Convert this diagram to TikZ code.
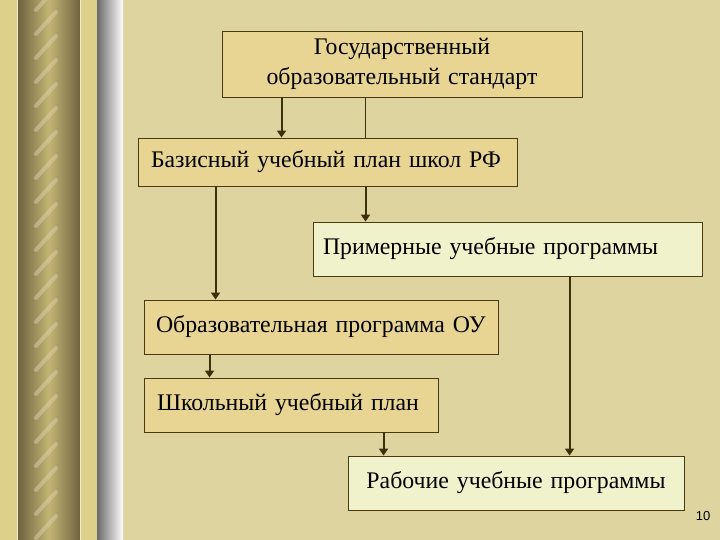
\documentclass[tikz,border=0pt]{standalone}
\usepackage{fontspec}
\setmainfont{Liberation Serif}
\newfontfamily\numfont{Liberation Sans}
\usetikzlibrary{arrows.meta}
\definecolor{bg}{HTML}{DED4A0}
\definecolor{boxfill}{HTML}{E8D594}
\definecolor{lightfill}{HTML}{F0F2CC}
\definecolor{edge}{HTML}{4A3A10}
\definecolor{arrcol}{HTML}{3D3008}
\definecolor{ropedark}{HTML}{6F6440}
\definecolor{ropemid}{HTML}{C4B474}
\definecolor{khaki}{HTML}{DDD08A}
\tikzset{
  box/.style={draw=edge, line width=0.9pt, fill=boxfill, inner ysep=0pt,
    font=\fontsize{23.8}{27}\selectfont, text=black},
  lbox/.style={box, fill=lightfill},
  arr/.style={draw=arrcol, line width=2pt, -{Triangle[width=9pt,length=7pt]}},
  plain/.style={draw=arrcol, line width=1.1pt}
}
\begin{document}
\begin{tikzpicture}[x=1pt,y=-1pt]
\useasboundingbox (0,0) rectangle (720,540);
\fill[bg] (0,0) rectangle (720,540);
% left decoration
\fill[khaki] (0,0) rectangle (97,540);
\draw[white!60!khaki, line width=0.6pt] (17,0) -- (17,540);
\shade[left color=ropedark, right color=ropedark, middle color=ropemid] (18,0) rectangle (80,540);
\begin{scope}
\clip (26,0) rectangle (72,540);
\foreach \k in {0,...,22} {
  \draw[white!45!ropemid, line width=4pt, opacity=0.45, line cap=round]
    (36,{\k*24+10}) -- (56,{\k*24-12});
}
\end{scope}
\draw[white!60!khaki, line width=0.6pt] (80,0) -- (80,540);
\shade[left color=black!45!gray!80, right color=white] (97,0) rectangle (123,540);
% boxes
\node[box, text width=360pt, inner xsep=0pt, minimum height=66pt, align=center,
  font=\fontsize{23.8}{30}\selectfont] (b1) at (402,64)
  {Государственный\\образовательный стандарт};
\node[box, text width=353pt, inner xsep=13pt, minimum height=48pt, align=left] (b2) at (327.5,162)
  {Базисный учебный план школ РФ};
\node[lbox, text width=369pt, inner xsep=10pt, minimum height=54pt, align=left] (b3) at (507.5,249)
  {Примерные учебные программы};
\node[box, text width=330pt, inner xsep=12pt, minimum height=54pt, align=left] (b4) at (321,327)
  {Образовательная программа ОУ};
\node[box, text width=268pt, inner xsep=13pt, minimum height=54pt, align=left] (b5) at (291,405)
  {Школьный учебный план};
\node[lbox, text width=336pt, inner xsep=0pt, minimum height=54pt, align=center] (b6) at (516,483)
  {Рабочие учебные программы};
\node[font=\numfont\fontsize{13}{15}\selectfont] (pg) at (703,516) {10};
% connectors
\coordinate (c1) at ([xshift=60pt]b1.south west);
\coordinate (c2) at ([xshift=144pt]b1.south west);
\coordinate (c3) at ([xshift=228pt]b2.south west);
\coordinate (c4) at ([xshift=78pt]b2.south west);
\coordinate (c5) at ([xshift=66pt]b4.south west);
\coordinate (c6) at ([xshift=240pt]b5.south west);
\coordinate (c7) at ([xshift=257pt]b3.south west);
\draw[arr] (c1) -- (c1 |- b2.north);
\draw[plain] (c2) -- (c2 |- b2.north);
\draw[arr] (c3) -- (c3 |- b3.north);
\draw[arr] (c4) -- (c4 |- b4.north);
\draw[arr] (c5) -- (c5 |- b5.north);
\draw[arr] (c6) -- (c6 |- b6.north);
\draw[arr] (c7) -- (c7 |- b6.north);
\end{tikzpicture}
\end{document}
